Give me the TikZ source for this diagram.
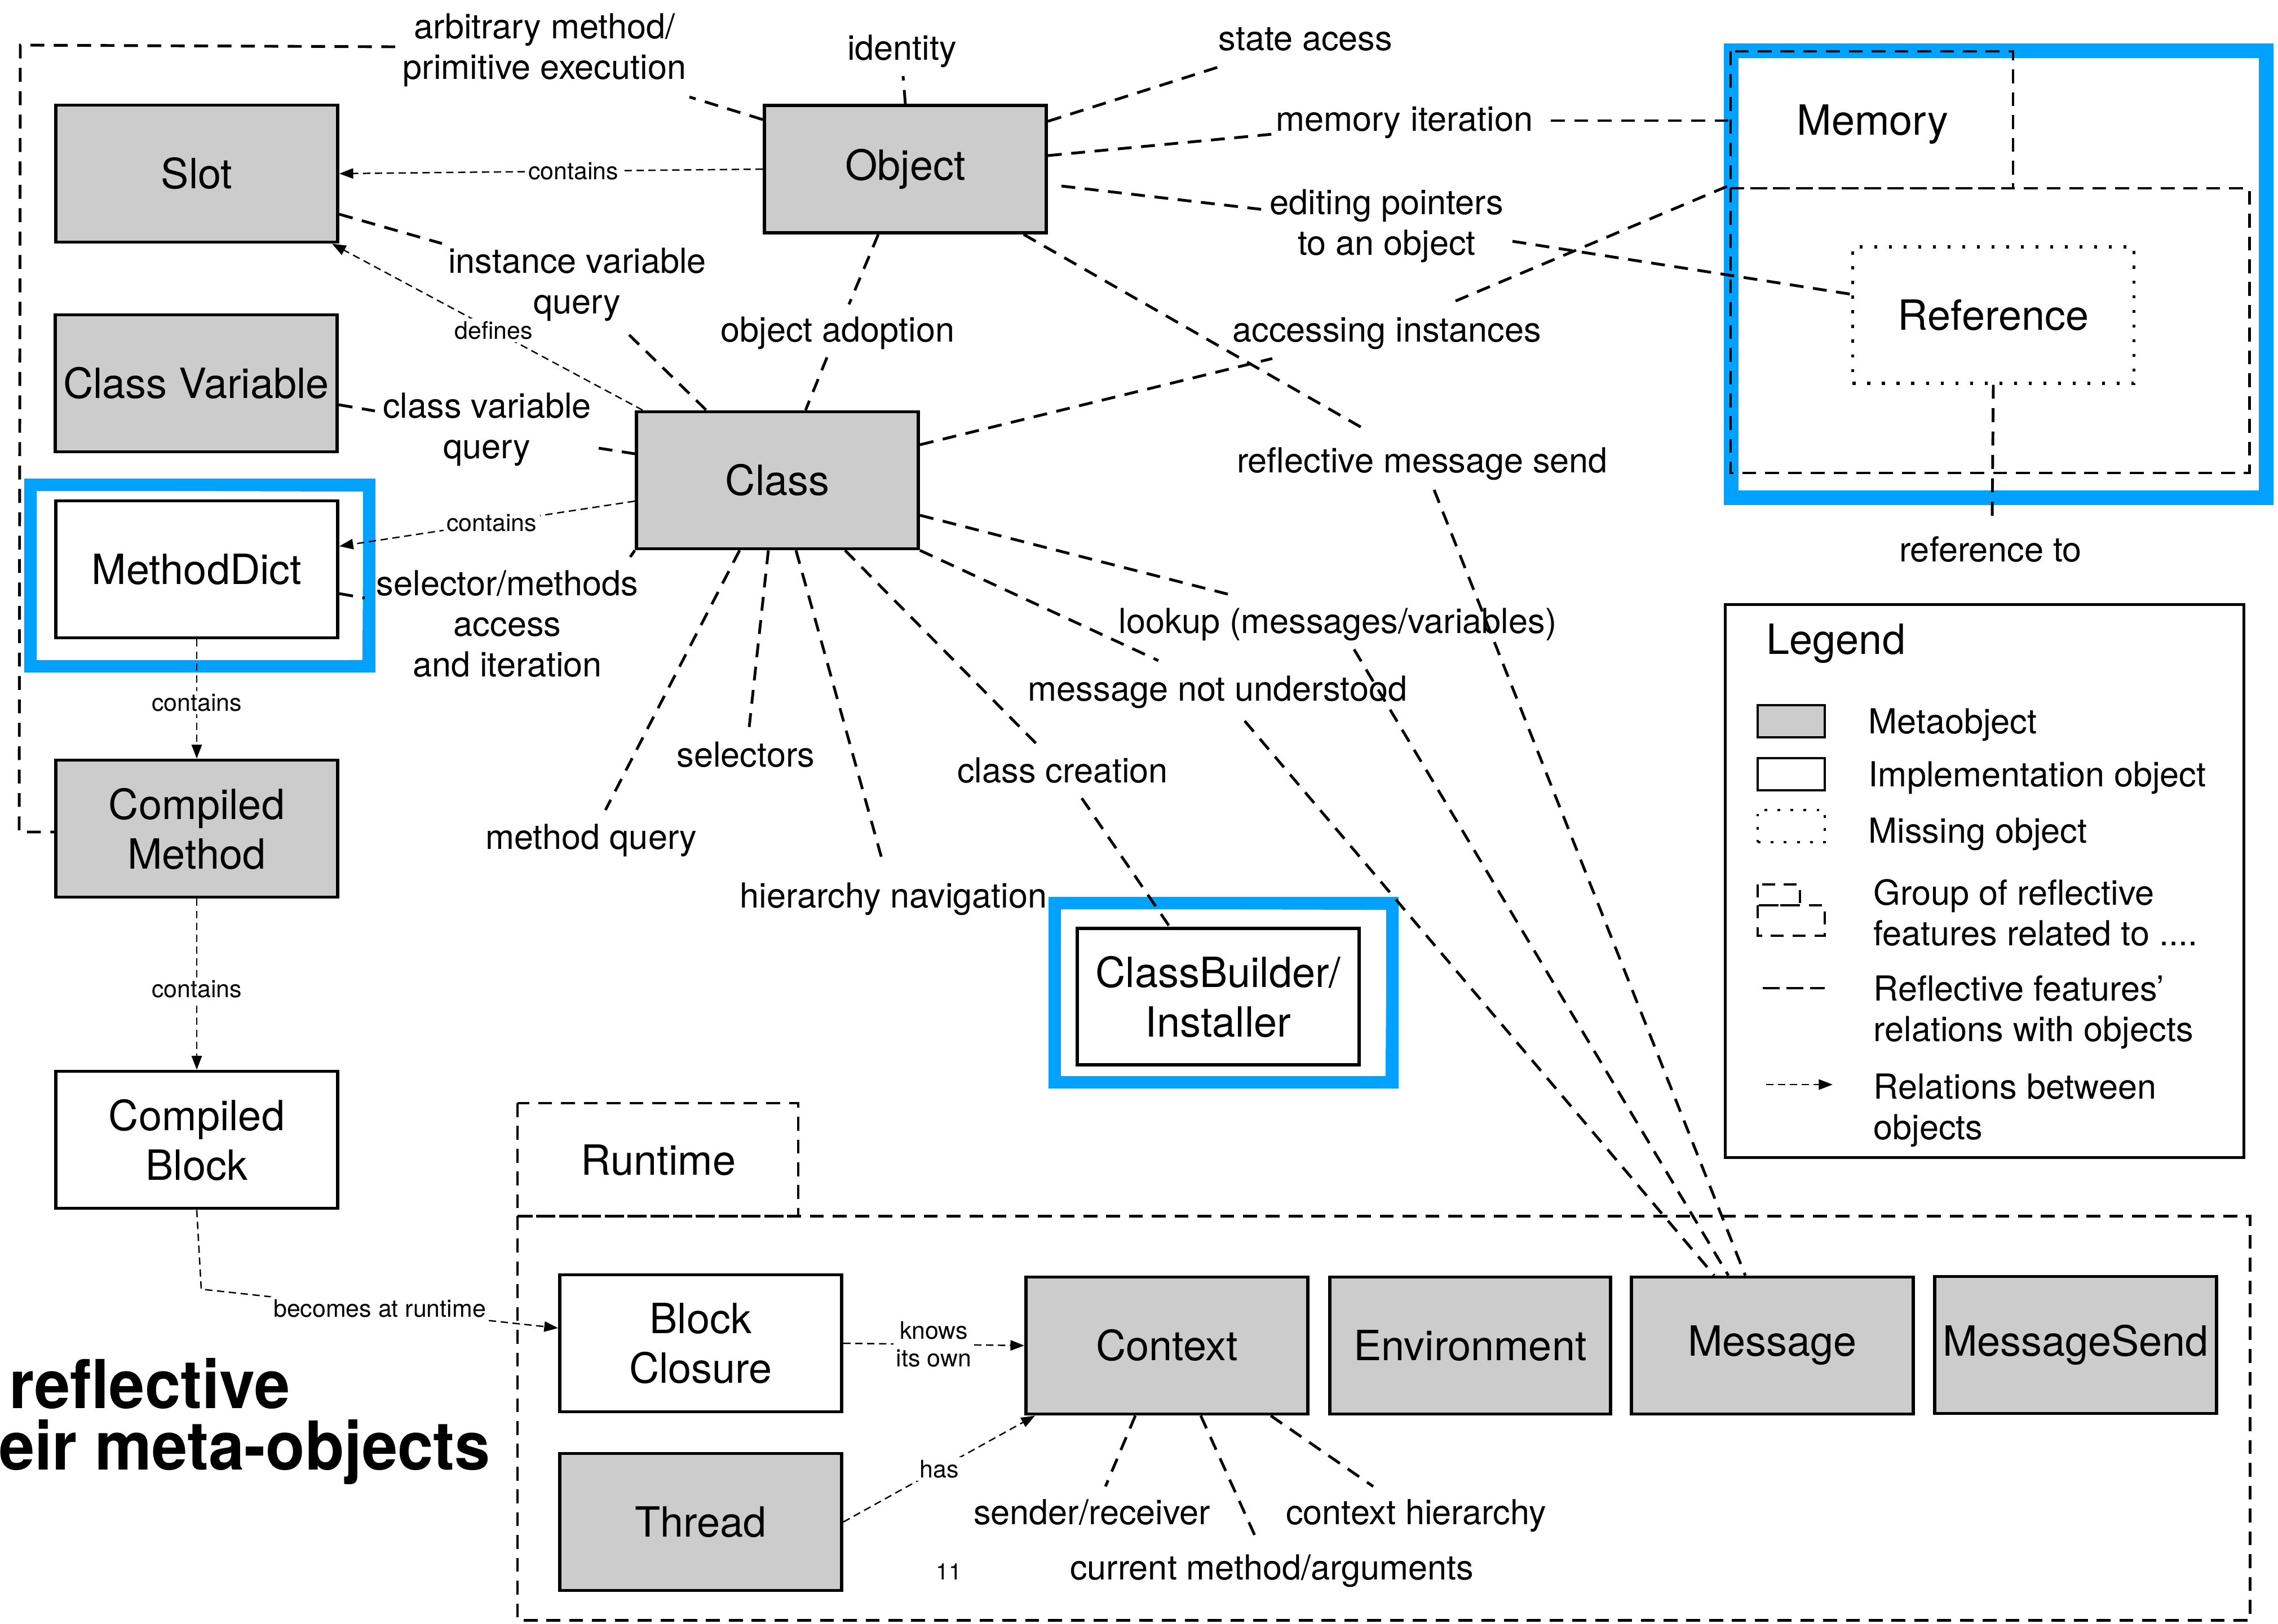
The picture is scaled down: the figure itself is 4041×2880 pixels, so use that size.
\documentclass[tikz,border=0pt]{standalone}
\usepackage{fontspec}
\setmainfont{TeX Gyre Heros}
\usetikzlibrary{arrows.meta}
\definecolor{metagray}{RGB}{204,204,204}
\definecolor{skblue}{RGB}{0,162,255}
\newcommand\nodefont{\fontsize{21}{25}\selectfont}
\newcommand\lblfont{\fontsize{17.4}{20.5}\selectfont}
\newcommand\smlfont{\fontsize{12.2}{14}\selectfont}
\newcommand\titfont{\fontsize{34}{38}\selectfont\bfseries}
\newcommand\skframe[5]{%
  \draw[skblue, line width=#5] (#1,#2) rectangle (#3,#4);
  \draw[skblue, line width=1.6pt] (#1-7,#2-6) -- (#3+5,#2-3) -- (#3+8,#4+5) -- (#1-5,#4+7) -- cycle;
  \draw[skblue, line width=1.2pt] (#1+9,#2+8) -- (#3-8,#2+10) -- (#3-10,#4-9) -- (#1+8,#4-7) -- cycle;
}
\begin{document}
\begin{tikzpicture}[x=0.01cm,y=-0.01cm,
  box/.style={draw, line width=1.6pt, minimum width=5cm, minimum height=2.43cm, inner sep=0pt, align=center, font=\nodefont},
  meta/.style={box, fill=metagray},
  impl/.style={box, fill=white},
  feat/.style={line width=1.4pt, dash pattern=on 7pt off 4.8pt},
  grp/.style={line width=1.4pt, dash pattern=on 7pt off 4.5pt},
  rel/.style={line width=0.7pt, dash pattern=on 3.7pt off 2.3pt, -{Triangle[length=7pt,width=5.2pt]}},
  lbl/.style={font=\lblfont, inner sep=0pt, align=center},
  sml/.style={font=\smlfont, inner sep=1.5pt, fill=white, align=center},
]
\useasboundingbox (0,0) rectangle (4041,2880);
\clip (0,0) rectangle (4041,2880);
\fill[white] (0,0) rectangle (4041,2880);

% blue sketch frames
\skframe{54}{860}{655}{1182}{6pt}
\skframe{1871}{1602}{2470}{1920}{6.2pt}
\skframe{3071}{90}{4020}{883}{7.4pt}

% boxes
\node[meta] (slot) at (349,308) {Slot};
\node[meta] (cvar) at (348,680) {Class Variable};
\node[impl] (mdict) at (349,1010) {MethodDict};
\node[meta] (cmeth) at (349,1470) {Compiled\\Method};
\node[impl] (cblock) at (349,2022) {Compiled\\Block};
\node[meta, minimum height=2.26cm] (object) at (1606,300) {Object};
\node[meta] (class) at (1379,852) {Class};
\node[impl, minimum height=2.42cm] (cbuild) at (2161,1768) {ClassBuilder/\\Installer};
\node[impl] (bclos) at (1243,2383) {Block\\Closure};
\node[meta] (thread) at (1243,2700) {Thread};
\node[meta] (context) at (2070,2387) {Context};
\node[meta, minimum width=4.98cm] (env) at (2608,2387) {Environment};
\node[meta] (message) at (3144,2387) {Message};
\node[meta] (msend) at (3682,2386) {MessageSend};

% memory group
\draw[grp] (3070,334) rectangle (3990,839);
\draw[grp] (3070,91) rectangle (3571,334);
\node[font=\nodefont, anchor=base, inner sep=0pt] (memlbl) at (3322,239) {Memory};
\node[draw, line width=1.5pt, dash pattern=on 1.5pt off 5.9pt, minimum width=4.99cm, minimum height=2.42cm, inner sep=0pt, font=\nodefont] (ref) at (3536,559) {Reference};
\coordinate (memL) at (3070,214);
\coordinate (memL2) at (3070,328);

% runtime group
\draw[grp] (918,2157) rectangle (3991,2874);
\draw[grp] (918,1957) rectangle (1416,2157);
\node[font=\nodefont, anchor=base, inner sep=0pt] (rtlbl) at (1168,2084) {Runtime};

% thin relations
\draw[rel] (object.west) -- node[sml, pos=0.447] {contains} (slot.east);
\draw[rel] ([xshift=0.14cm]class.north west) -- node[sml, pos=0.48] {defines} ([xshift=-0.13cm]slot.south east);
\draw[rel] ([yshift=-0.37cm]class.west) -- node[sml, pos=0.484] {contains} ([yshift=0.41cm]mdict.east);
\draw[rel] (mdict.south) -- node[sml, pos=0.53] {contains} (cmeth.north);
\draw[rel] (cmeth.south) -- node[sml, pos=0.53] {contains} (cblock.north);
\coordinate (cbbend) at (357,2287);
\draw[rel] (cblock.south) -- (cbbend) -- node[sml, pos=0.5] {becomes at runtime} ([yshift=0.27cm]bclos.west);
\draw[rel] (bclos.east) -- node[sml] {knows\\its own} (context.west);
\draw[rel] (thread.east) -- node[sml, pos=0.5] {has} ([xshift=0.19cm]context.south west);

% reflective feature lines
\coordinate (aA) at (1223,172); \coordinate (aB) at (701,83);
\coordinate (aC) at (36,80); \coordinate (aD) at (34,1476);
\draw[feat] ([yshift=-0.28cm]object.north west) -- (aA);
\draw[feat] (aB) -- (aC) -- (aD) -- ([yshift=-0.06cm]cmeth.west);

\coordinate (idA) at (1602,135);
\draw[feat] (object.north) -- (idA);
\coordinate (saA) at (2161,119);
\draw[feat] ([yshift=-0.31cm]object.north east) -- (saA);
\coordinate (miA) at (2257,238); \coordinate (miB) at (2751,214);
\draw[feat] ([yshift=0.24cm]object.east) -- (miA);
\draw[feat] (miB) -- (memL);
\coordinate (epB) at (2243,372); \coordinate (epC) at (2683,428);
\draw[feat] ([xshift=0.24cm,yshift=-0.3cm]object.east) -- (epB);
\draw[feat] (epC) -- ([yshift=0.37cm]ref.west);
\coordinate (rmA) at (2420,761); \coordinate (rmB) at (2544,869);
\draw[feat] ([xshift=-0.43cm]object.south east) -- (rmA);
\draw[feat] (rmB) -- ([xshift=-0.48cm]message.north);
\coordinate (oaA) at (1506,540); \coordinate (oaB) at (1467,634);
\draw[feat] ([xshift=-0.48cm]object.south) -- (oaA);
\draw[feat] (oaB) -- ([xshift=0.5cm]class.north);

\coordinate (ivA) at (784,432); \coordinate (ivB) at (1116,594);
\draw[feat] ([yshift=-0.72cm]slot.east) -- (ivA);
\draw[feat] (ivB) -- ([xshift=-1.26cm]class.north);
\coordinate (cvA) at (665,729); \coordinate (cvB) at (1062,795);
\draw[feat] ([yshift=-0.38cm]cvar.east) -- (cvA);
\draw[feat] (cvB) -- ([yshift=0.47cm]class.west);
\coordinate (smA) at (647,1061); \coordinate (smB) at (1118,988);
\draw[feat] ([yshift=-0.43cm]mdict.east) -- (smA);
\draw[feat] (class.south west) -- (smB);
\coordinate (acA) at (2257,636); \coordinate (acB) at (2582,534);
\draw[feat] ([yshift=0.63cm]class.east) -- (acA);
\draw[feat] (acB) -- (memL2);
\coordinate (lkA) at (2178,1054); \coordinate (lkB) at (2402,1152);
\draw[feat] ([yshift=-0.62cm]class.east) -- (lkA);
\draw[feat] (lkB) -- ([xshift=-0.78cm]message.north);
\coordinate (mnA) at (2055,1172); \coordinate (mnB) at (2208,1279);
\draw[feat] (class.south east) -- (mnA);
\draw[feat] (mnB) -- ([xshift=-1.03cm]message.north);
\coordinate (ccA) at (1838,1319); \coordinate (ccB) at (1919,1416);
\draw[feat] ([xshift=1.2cm]class.south) -- (ccA);
\draw[feat] (ccB) -- ([xshift=-0.86cm]cbuild.north);
\coordinate (hnA) at (1565,1526);
\draw[feat] ([xshift=0.33cm]class.south) -- (hnA);
\coordinate (selA) at (1329,1290);
\draw[feat] ([xshift=-0.16cm]class.south) -- (selA);
\coordinate (mqA) at (1074,1437);
\draw[feat] ([xshift=-0.67cm]class.south) -- (mqA);

\coordinate (srA) at (1961,2637); \coordinate (cmA) at (2226,2724); \coordinate (chA) at (2436,2637);
\draw[feat] ([xshift=-0.56cm]context.south) -- (srA);
\draw[feat] ([xshift=0.6cm]context.south) -- (cmA);
\draw[feat] ([xshift=1.84cm]context.south) -- (chA);
\coordinate (rfA) at (3534,915);
\draw[feat] (ref.south) -- (rfA);

% labels
\node[lbl] (larb) at (966,89) {arbitrary method/\\primitive execution};
\node[lbl, anchor=base] (lid) at (1600,106) {identity};
\node[lbl, anchor=base] (lsa) at (2316,89) {state acess};
\node[lbl, anchor=base] (lmi) at (2491,232) {memory iteration};
\node[lbl] (lep) at (2460,401) {editing pointers\\to an object};
\node[lbl] (livq) at (1024,505) {instance variable\\query};
\node[lbl, anchor=base] (loa) at (1486,606) {object adoption};
\node[lbl, anchor=base] (lai) at (2460,606) {accessing instances};
\node[lbl] (lcvq) at (864,762) {class variable\\query};
\node[lbl, anchor=base] (lrms) at (2523,838) {reflective message send};
\node[lbl] (lsma) at (900,1107) {selector/methods\\access\\and iteration};
\node[lbl, anchor=base] (llk) at (2373,1123) {lookup (messages/variables)};
\node[lbl, anchor=base] (lmnu) at (2160,1243) {message not understood};
\node[lbl, anchor=base] (lsel) at (1323,1360) {selectors};
\node[lbl, anchor=base] (lcc) at (1885,1388) {class creation};
\node[lbl, anchor=base] (lmq) at (1049,1506) {method query};
\node[lbl, anchor=base] (lhn) at (1585,1610) {hierarchy navigation};
\node[lbl, anchor=base] (lref) at (3531,996) {reference to};
\node[lbl, anchor=base] (lsr) at (1937,2704) {sender/receiver};
\node[lbl, anchor=base] (lch) at (2512,2704) {context hierarchy};
\node[lbl, anchor=base] (lcm) at (2256,2802) {current method/arguments};
\node[font=\fontsize{11.5}{13}\selectfont, inner sep=0pt] (pnum) at (1683,2788) {11};

% title fragments
\node[font=\titfont, anchor=base east, inner sep=0pt] (t1) at (515,2498) {\scalebox{0.95}[1]{e\hspace{-0.12em} reflective}};
\node[font=\titfont, anchor=base east, inner sep=0pt] (t2) at (870,2607) {\scalebox{0.95}[1]{eir meta-objects}};

% legend
\node[draw, line width=1.4pt, minimum width=9.19cm, minimum height=9.8cm, inner sep=0pt] (legend) at (3520.5,1563) {};
\node[font=\fontsize{21}{25}\selectfont, anchor=base west, inner sep=0pt] (legtitle) at (3133,1160) {Legend};
\node[draw, fill=metagray, line width=1.1pt, minimum width=1.19cm, minimum height=0.57cm, inner sep=0pt] (swmeta) at (3177.5,1279.5) {};
\node[draw, fill=white, line width=1.1pt, minimum width=1.19cm, minimum height=0.57cm, inner sep=0pt] (swimpl) at (3177.5,1373.5) {};
\node[draw, line width=1.2pt, dash pattern=on 1.4pt off 5.2pt, minimum width=1.19cm, minimum height=0.57cm, inner sep=0pt] (swmiss) at (3177.5,1465.5) {};
\draw[line width=1.2pt, dash pattern=on 6.5pt off 4.5pt] (3118,1606) rectangle (3237,1660);
\draw[line width=1.2pt, dash pattern=on 6.5pt off 4.5pt] (3118,1569) rectangle (3193,1606);
\draw[line width=1.2pt, dash pattern=on 8.5pt off 3.5pt] (3127,1753) -- (3237,1753);
\draw[rel] (3133,1924) -- (3251,1924);
\node[lbl, anchor=base west] (lg1) at (3314,1301) {Metaobject};
\node[lbl, anchor=base west] (lg2) at (3314,1395) {Implementation object};
\node[lbl, anchor=base west] (lg3) at (3314,1495) {Missing object};
\node[lbl, anchor=west, align=left] (lg4) at (3323,1619) {Group of reflective\\features related to ....};
\node[lbl, anchor=west, align=left] (lg5) at (3323,1796) {Reflective features’\\relations with objects};
\node[lbl, anchor=west, align=left] (lg6) at (3323,1970) {Relations between\\objects};
\end{tikzpicture}
\end{document}
